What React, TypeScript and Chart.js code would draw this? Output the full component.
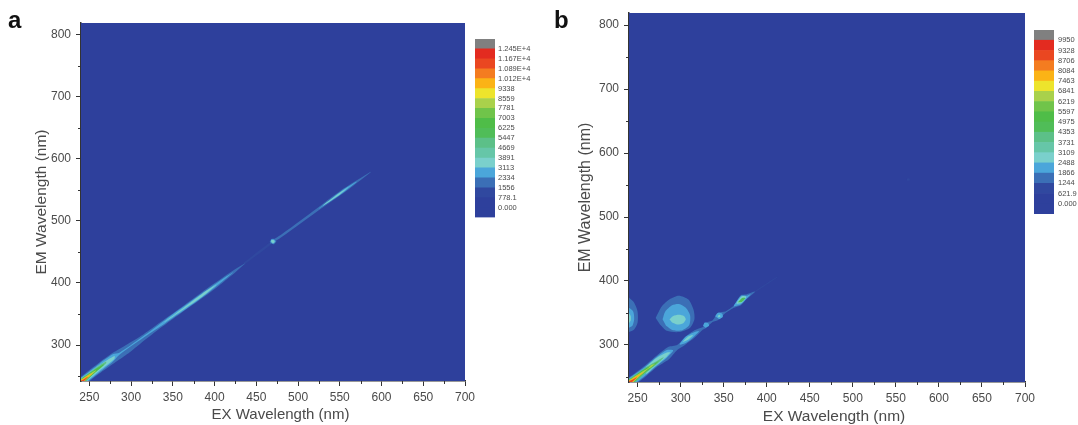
import React, { useEffect, useRef } from "react";
import { Chart, registerables } from "chart.js";

Chart.register(...registerables);

const FONT = "'Liberation Sans', Arial, sans-serif";
const INK = "#4a4a4a";

// colour of each contour band, lowest first
const levelColors = [
  "#2E409C", "#2E409C", "#30489F", "#3B6FB6", "#4BA6DA", "#7AD0CC", "#66C6A8", "#5CC088", "#50BD58",
  "#4FBD48", "#70C44A", "#A9D14B", "#EDE42C", "#FBB316", "#F47C20", "#EA4721", "#E32B20", "#808080",
];

const labelsA = ["0.000", "778.1", "1556", "2334", "3113", "3891", "4669", "5447", "6225", "7003", "7781", "8559", "9338", "1.012E+4", "1.089E+4", "1.167E+4", "1.245E+4"];
const labelsB = ["0.000", "621.9", "1244", "1866", "2488", "3109", "3731", "4353", "4975", "5597", "6219", "6841", "7463", "8084", "8706", "9328", "9950"];

const xTicks = [250, 300, 350, 400, 450, 500, 550, 600, 650, 700];
const xMinor = [275, 325, 375, 425, 475, 525, 575, 625, 675];
const yTicks = [300, 400, 500, 600, 700, 800];
const yMinor = [250, 350, 450, 550, 650, 750];

type Band = { level: number; ridge?: number[][]; outline?: number[][] };

// ridge rows: EX, EM centre, half width in EM
const contoursA: Band[] = [
  { level: 2, ridge: [[435, 431, 2], [470, 467, 2]] },
  { level: 3, ridge: [[240, 240, 9], [262, 263, 9], [280, 280, 9], [295, 293, 8], [310, 307, 6], [330, 327, 5], [360, 356, 4.5], [395, 390, 5], [425, 420, 2.6], [436, 431, 0.5]] },
  { level: 3, ridge: [[467, 465, 2.5], [480, 476, 2.2], [530, 525, 2.8], [555, 549, 3.5], [587, 579, 0.4]] },
  { level: 3, outline: [[466, 466], [468, 471], [472, 471], [474, 467], [471, 462]] },
  { level: 4, ridge: [[240, 240, 7.5], [262, 263, 7], [278, 279, 6], [286, 286, 1.5], [320, 318, 1.4], [340, 337, 2.6], [380, 375, 3.4], [410, 405, 1.8], [422, 417, 0.3]] },
  { level: 4, ridge: [[525, 520, 0.5], [550, 544, 2.4], [570, 563, 0.4]] },
  { level: 4, outline: [[467, 466], [468, 470], [471, 470], [473, 467], [470, 463]] },
  { level: 5, ridge: [[240, 240, 6], [262, 263, 4.5], [280, 280, 2.4]] },
  { level: 5, ridge: [[340, 337, 0.4], [360, 356, 1.2], [385, 380, 2.4], [402, 397, 0.4]] },
  { level: 5, ridge: [[530, 525, 0.3], [550, 544, 1.3], [560, 554, 0.3]] },
  { level: 5, outline: [[468, 466], [468, 469], [471, 469], [472, 466], [470, 464]] },
  { level: 7, ridge: [[240, 240, 5.5], [258, 260, 3.5], [270, 272, 1.5]] },
  { level: 9, ridge: [[240, 240, 5], [256, 257, 2.6], [267, 268, 0.8]] },
  { level: 11, ridge: [[240, 240, 4.5], [250, 251, 2.2], [258, 259, 0.5]] },
  { level: 13, ridge: [[240, 240, 3.5], [248, 249, 1.5], [254, 254, 0.4]] },
  { level: 15, ridge: [[240, 240, 2.5], [244, 244, 1.3], [248, 248, 0.3]] },
];

const contoursB: Band[] = [
  { level: 2, ridge: [[385, 382, 0.8], [412, 406, 0.4]] },
  { level: 2, outline: [[563, 557], [563, 560], [566, 560], [566, 557]] },
  { level: 3, outline: [[240, 374], [246, 366], [250, 352], [250, 335], [246, 324], [240, 320]] },
  { level: 4, outline: [[240, 358], [245, 352], [246, 340], [244, 330], [240, 327]] },
  { level: 5, outline: [[240, 350], [242, 345], [242, 338], [240, 334]] },
  { level: 3, outline: [[271, 342], [278, 360], [288, 372], [298, 377], [309, 371], [315, 355], [316, 340], [311, 327], [298, 320], [284, 322], [276, 332]] },
  { level: 4, outline: [[279, 340], [282, 352], [290, 362], [298, 364], [306, 358], [311, 346], [310, 331], [302, 323], [291, 323], [283, 330]] },
  { level: 5, outline: [[287, 340], [291, 345], [298, 347], [304, 345], [306, 340], [303, 334], [296, 332], [290, 335]] },
  { level: 3, ridge: [[240, 240, 9], [258, 258, 9], [272, 274, 9], [286, 287, 10], [296, 296, 4], [305, 306, 6], [316, 317, 6], [326, 326, 2], [330, 331, 4], [337, 337, 1.3], [344, 345, 5.5], [352, 351, 1.2], [362, 360, 2], [370, 370, 8], [376, 375, 4], [386, 383, 0.5]] },
  { level: 4, ridge: [[240, 240, 8], [258, 258, 7], [272, 274, 7], [284, 286, 6], [291, 291, 1]] },
  { level: 4, ridge: [[299, 301, 0.8], [306, 308, 5], [315, 316, 3.5], [321, 321, 0.6]] },
  { level: 4, outline: [[326, 330], [328, 335], [332, 334], [333, 330], [329, 327]] },
  { level: 4, outline: [[340, 345], [343, 350], [348, 349], [349, 344], [345, 340]] },
  { level: 4, ridge: [[362, 361, 1], [370, 370, 6.5], [377, 375, 2], [381, 379, 0.4]] },
  { level: 5, ridge: [[260, 260, 6], [272, 274, 5.5], [284, 285, 3], [288, 288, 0.4]] },
  { level: 5, ridge: [[303, 305, 0.6], [308, 310, 2.5], [314, 315, 0.5]] },
  { level: 5, outline: [[343, 345], [345, 347], [346, 346], [346, 344], [344, 343]] },
  { level: 5, ridge: [[365, 365, 1], [371, 371, 5], [376, 375, 0.8]] },
  { level: 8, ridge: [[367, 367, 0.5], [371, 370, 3], [375, 373, 0.5]] },
  { level: 7, ridge: [[240, 240, 6.5], [262, 263, 4], [272, 272, 2.5], [280, 280, 0.6]] },
  { level: 9, ridge: [[240, 240, 5.5], [258, 259, 3], [268, 268, 1.4], [274, 274, 0.3]] },
  { level: 11, ridge: [[240, 240, 5], [252, 253, 2.4], [262, 263, 0.5], [266, 267, 1.4], [270, 270, 0.3]] },
  { level: 13, ridge: [[240, 240, 4], [250, 251, 1.6], [257, 257, 0.3]] },
  { level: 15, ridge: [[240, 240, 3], [245, 245, 1.2], [249, 249, 0.3]] },
];

const toPolygon = (b: Band) => {
  const pts = b.outline
    ? b.outline.map(([x, y]) => ({ x, y }))
    : [
        ...b.ridge!.map(([x, c, h]) => ({ x, y: c + h })),
        ...[...b.ridge!].reverse().map(([x, c, h]) => ({ x, y: c - h })),
      ];
  return pts;
};

const fixedSize = (w: number | null, h: number | null) => (scale: any) => {
  if (w !== null) scale.width = w;
  if (h !== null) scale.height = h;
};

const plotPlugin = {
  id: "plot",
  beforeDatasetsDraw(chart: any) {
    const { ctx, chartArea: a } = chart;
    ctx.save();
    ctx.fillStyle = levelColors[0];
    ctx.fillRect(a.left, a.top, a.right - a.left, a.bottom - a.top);
    ctx.restore();
  },
  afterDraw(chart: any, _args: any, opts: any) {
    const { ctx, chartArea: a, scales } = chart;
    ctx.save();
    ctx.strokeStyle = "#333";
    ctx.lineWidth = 1;
    ctx.beginPath();
    xMinor.forEach((v) => {
      const p = Math.round(scales.x.getPixelForValue(v)) + 0.5;
      ctx.moveTo(p, a.bottom);
      ctx.lineTo(p, a.bottom + 3);
    });
    yMinor.forEach((v) => {
      const p = Math.round(scales.y.getPixelForValue(v)) + 0.5;
      ctx.moveTo(a.left, p);
      ctx.lineTo(a.left - 3, p);
    });
    ctx.stroke();
    ctx.fillStyle = INK;
    ctx.font = `${opts.size}px ${FONT}`;
    ctx.textAlign = "center";
    ctx.textBaseline = "middle";
    ctx.fillText("EX Wavelength (nm)", opts.cx, opts.cy);
    ctx.restore();
  },
};

function Panel({ box, plot, contours, xTitle, yFont, yTitlePad }: { box: number[]; plot: number[]; contours: Band[]; xTitle: number[]; yFont: number; yTitlePad: number }) {
  const ref = useRef<HTMLCanvasElement>(null);
  const [bx, by, bw, bh] = box;
  const [left, top, right, bottom] = plot;
  useEffect(() => {
    const chart = new Chart(ref.current!, {
      type: "scatter",
      data: {
        datasets: [...contours].reverse().map((c) => ({
          data: toPolygon(c),
          showLine: true,
          fill: "shape",
          backgroundColor: levelColors[c.level],
          borderWidth: 0,
          borderColor: "transparent",
          pointRadius: 0,
          tension: 0.25,
        })),
      },
      plugins: [plotPlugin],
      options: {
        animation: false,
        responsive: false,
        events: [],
        layout: { padding: { left: 0, top: top - by, right: bx + bw - right, bottom: 0 } },
        plugins: {
          legend: { display: false },
          tooltip: { enabled: false },
          title: { display: false },
          plot: { cx: xTitle[0] - bx, cy: xTitle[1] - by, size: xTitle[2] },
        },
        scales: {
          x: {
            type: "linear",
            min: 240,
            max: 700,
            afterBuildTicks: (s: any) => { s.ticks = xTicks.map((value) => ({ value })); },
            afterFit: fixedSize(null, by + bh - bottom),
            grid: { drawOnChartArea: false, tickLength: 5, tickColor: "#333" },
            border: { color: "#333", width: 1.5 },
            ticks: { font: { family: FONT, size: 12 }, color: INK, padding: 4, maxRotation: 0, autoSkip: false },
          },
          y: {
            type: "linear",
            min: 242,
            max: 819,
            afterBuildTicks: (s: any) => { s.ticks = yTicks.map((value) => ({ value })); },
            afterFit: fixedSize(left - bx, null),
            grid: { drawOnChartArea: false, tickLength: 5, tickColor: "#333" },
            border: { color: "#333", width: 1.5 },
            ticks: { font: { family: FONT, size: 12 }, color: INK, padding: 5, autoSkip: false },
            title: { display: true, text: "EM Wavelength (nm)", font: { family: FONT, size: yFont }, color: INK, padding: { top: yTitlePad, bottom: 0 } },
          },
        },
      },
    } as any);
    return () => chart.destroy();
  }, []);
  return <canvas ref={ref} width={bw} height={bh} style={{ position: "absolute", left: bx, top: by, width: bw, height: bh }} />;
}

function ColorBar({ box, bar, labels, gap }: { box: number[]; bar: number[]; labels: string[]; gap: number }) {
  const ref = useRef<HTMLCanvasElement>(null);
  const [bx, by, bw, bh] = box;
  const [left, top, right, bottom] = bar;
  useEffect(() => {
    const chart = new Chart(ref.current!, {
      type: "bar",
      data: {
        labels: [""],
        datasets: levelColors.map((backgroundColor) => ({
          data: [1],
          backgroundColor,
          borderWidth: 0,
          categoryPercentage: 1,
          barPercentage: 1,
        })),
      },
      options: {
        animation: false,
        responsive: false,
        events: [],
        layout: { padding: { left: left - bx, top: top - by, right: 0, bottom: by + bh - bottom } },
        plugins: { legend: { display: false }, tooltip: { enabled: false } },
        scales: {
          x: { stacked: true, display: false },
          y: {
            stacked: true,
            position: "right",
            min: 0,
            max: levelColors.length,
            afterBuildTicks: (s: any) => { s.ticks = labels.map((_, i) => ({ value: i + 1 })); },
            afterFit: fixedSize(bx + bw - right, null),
            grid: { display: false, drawTicks: false },
            border: { display: false },
            ticks: {
              font: { family: FONT, size: 7.5 },
              color: INK,
              padding: gap,
              autoSkip: false,
              callback: (v: any) => labels[v - 1],
            },
          },
        },
      },
    } as any);
    return () => chart.destroy();
  }, []);
  return <canvas ref={ref} width={bw} height={bh} style={{ position: "absolute", left: bx, top: by, width: bw, height: bh }} />;
}

const letter = (t: string, left: number, top: number) => (
  <div style={{ position: "absolute", left, top, font: `bold 24px ${FONT}`, color: "#111", lineHeight: "24px" }}>{t}</div>
);

export default function App() {
  return (
    <div style={{ position: "fixed", left: 0, top: 0, width: 1078, height: 425, overflow: "hidden", background: "#fff", filter: "blur(0.6px)" }}>
      <Panel box={[0, 0, 482, 425]} plot={[81, 23, 465, 381]} contours={contoursA} xTitle={[280.5, 415, 15]} yFont={15.5} yTitlePad={32} />
      <Panel box={[548, 0, 495, 425]} plot={[629, 13, 1025, 382]} contours={contoursB} xTitle={[834, 417, 15.5]} yFont={16} yTitlePad={28} />
      <ColorBar box={[470, 30, 70, 195]} bar={[475, 39, 495, 218]} labels={labelsA} gap={3} />
      <ColorBar box={[1030, 20, 48, 205]} bar={[1034, 30, 1054, 214]} labels={labelsB} gap={4} />
      {letter("a", 8, 8)}
      {letter("b", 554, 8)}
    </div>
  );
}
